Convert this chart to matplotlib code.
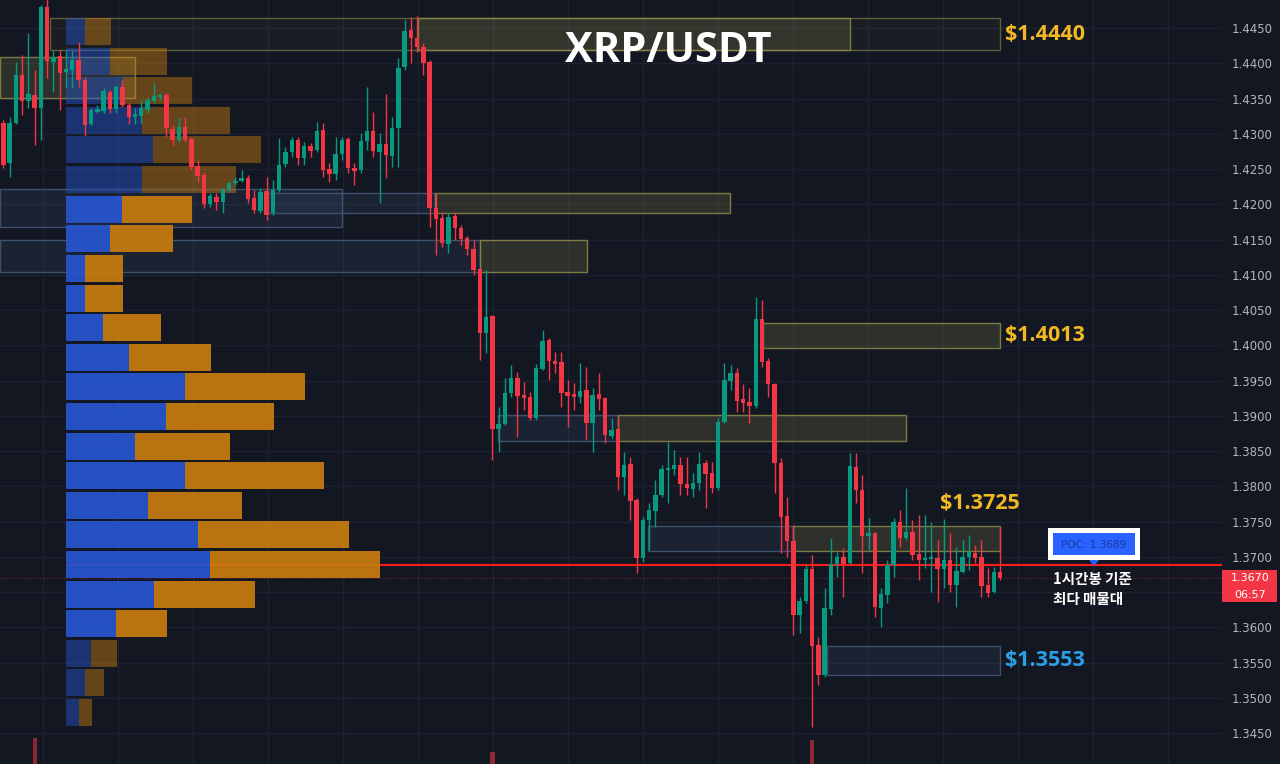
import numpy as np
import matplotlib
matplotlib.use("Agg")
import matplotlib.pyplot as plt
from matplotlib.patches import Rectangle, Polygon


# hourly XRP/USDT candles, oldest first
opens = [
    1.4315, 1.4259, 1.4315, 1.4383, 1.4347, 1.4355, 1.4337, 1.4480, 1.4402, 1.4410,
    1.4388, 1.4390, 1.4405, 1.4376, 1.4314, 1.4331, 1.4332, 1.4359, 1.4335, 1.4366,
    1.4341, 1.4324, 1.4325, 1.4334, 1.4347, 1.4352, 1.4355, 1.4307, 1.4291, 1.4310,
    1.4293, 1.4254, 1.4242, 1.4200, 1.4210, 1.4203, 1.4222, 1.4230, 1.4233, 1.4237,
    1.4209, 1.4190, 1.4219, 1.4188, 1.4220, 1.4257, 1.4274, 1.4291, 1.4266, 1.4283,
    1.4277, 1.4305, 1.4250, 1.4243, 1.4271, 1.4293, 1.4251, 1.4249, 1.4290, 1.4304,
    1.4274, 1.4285, 1.4268, 1.4308, 1.4395, 1.4447, 1.4436, 1.4423, 1.4402, 1.4195,
    1.4180, 1.4144, 1.4183, 1.4166, 1.4152, 1.4137, 1.4108, 1.4017, 1.4042, 1.3881,
    1.3888, 1.3932, 1.3954, 1.3930, 1.3927, 1.3897, 1.3966, 1.4007, 1.3978, 1.3976,
    1.3934, 1.3931, 1.3927, 1.3937, 1.3890, 1.3931, 1.3925, 1.3871, 1.3881, 1.3813,
    1.3832, 1.3781, 1.3698, 1.3752, 1.3765, 1.3788, 1.3823, 1.3825, 1.3830, 1.3803,
    1.3796, 1.3805, 1.3833, 1.3819, 1.3798, 1.3891, 1.3949, 1.3961, 1.3924, 1.3920,
    1.3914, 1.4037, 1.3978, 1.3945, 1.3833, 1.3758, 1.3722, 1.3617, 1.3637, 1.3683,
    1.3575, 1.3532, 1.3626, 1.3690, 1.3700, 1.3691, 1.3827, 1.3795, 1.3729, 1.3734,
    1.3627, 1.3646, 1.3688, 1.3749, 1.3727, 1.3735, 1.3704, 1.3695, 1.3697, 1.3698,
    1.3683, 1.3695, 1.3660, 1.3679, 1.3700, 1.3706, 1.3700, 1.3660, 1.3650, 1.3678,
]
highs = [
    1.4320, 1.4324, 1.4402, 1.4412, 1.4443, 1.4390, 1.4483, 1.4492, 1.4419, 1.4419,
    1.4419, 1.4419, 1.4430, 1.4380, 1.4337, 1.4341, 1.4365, 1.4362, 1.4369, 1.4376,
    1.4344, 1.4337, 1.4348, 1.4352, 1.4372, 1.4358, 1.4358, 1.4312, 1.4324, 1.4324,
    1.4295, 1.4263, 1.4246, 1.4216, 1.4216, 1.4224, 1.4232, 1.4239, 1.4249, 1.4242,
    1.4220, 1.4223, 1.4239, 1.4234, 1.4294, 1.4281, 1.4295, 1.4295, 1.4288, 1.4287,
    1.4317, 1.4315, 1.4259, 1.4295, 1.4295, 1.4295, 1.4259, 1.4301, 1.4366, 1.4331,
    1.4301, 1.4356, 1.4324, 1.4407, 1.4461, 1.4466, 1.4467, 1.4429, 1.4405, 1.4216,
    1.4188, 1.4188, 1.4189, 1.4171, 1.4155, 1.4149, 1.4110, 1.4107, 1.4043, 1.3912,
    1.3954, 1.3972, 1.3962, 1.3948, 1.3934, 1.3973, 1.4022, 1.4010, 1.3990, 1.3990,
    1.3951, 1.3947, 1.3975, 1.3969, 1.3939, 1.3961, 1.3927, 1.3897, 1.3898, 1.3849,
    1.3842, 1.3783, 1.3756, 1.3776, 1.3809, 1.3830, 1.3863, 1.3852, 1.3842, 1.3842,
    1.3819, 1.3849, 1.3837, 1.3835, 1.3897, 1.3975, 1.3972, 1.3968, 1.3945, 1.3939,
    1.4068, 1.4064, 1.3982, 1.3947, 1.3840, 1.3785, 1.3745, 1.3643, 1.3688, 1.3703,
    1.3586, 1.3656, 1.3727, 1.3707, 1.3713, 1.3847, 1.3847, 1.3816, 1.3755, 1.3735,
    1.3656, 1.3695, 1.3755, 1.3766, 1.3798, 1.3752, 1.3759, 1.3759, 1.3749, 1.3724,
    1.3754, 1.3734, 1.3714, 1.3724, 1.3731, 1.3717, 1.3724, 1.3684, 1.3685, 1.3742,
]
lows = [
    1.4251, 1.4239, 1.4314, 1.4327, 1.4337, 1.4284, 1.4291, 1.4379, 1.4359, 1.4334,
    1.4365, 1.4365, 1.4366, 1.4297, 1.4312, 1.4329, 1.4329, 1.4329, 1.4329, 1.4338,
    1.4314, 1.4314, 1.4315, 1.4329, 1.4344, 1.4348, 1.4295, 1.4284, 1.4288, 1.4288,
    1.4249, 1.4232, 1.4195, 1.4196, 1.4192, 1.4188, 1.4217, 1.4227, 1.4232, 1.4202,
    1.4188, 1.4188, 1.4177, 1.4185, 1.4217, 1.4253, 1.4267, 1.4256, 1.4256, 1.4267,
    1.4274, 1.4239, 1.4232, 1.4234, 1.4263, 1.4244, 1.4227, 1.4244, 1.4277, 1.4267,
    1.4202, 1.4237, 1.4253, 1.4253, 1.4390, 1.4400, 1.4416, 1.4383, 1.4168, 1.4128,
    1.4139, 1.4131, 1.4149, 1.4142, 1.4128, 1.4100, 1.3979, 1.3989, 1.3837, 1.3849,
    1.3887, 1.3927, 1.3870, 1.3908, 1.3894, 1.3894, 1.3965, 1.3951, 1.3961, 1.3912,
    1.3884, 1.3908, 1.3918, 1.3866, 1.3849, 1.3908, 1.3861, 1.3868, 1.3795, 1.3788,
    1.3752, 1.3677, 1.3693, 1.3710, 1.3742, 1.3785, 1.3776, 1.3816, 1.3788, 1.3788,
    1.3785, 1.3795, 1.3769, 1.3790, 1.3795, 1.3890, 1.3937, 1.3905, 1.3905, 1.3890,
    1.3911, 1.3969, 1.3927, 1.3790, 1.3705, 1.3700, 1.3589, 1.3592, 1.3634, 1.3459,
    1.3518, 1.3530, 1.3617, 1.3671, 1.3643, 1.3690, 1.3776, 1.3677, 1.3710, 1.3615,
    1.3600, 1.3634, 1.3671, 1.3714, 1.3724, 1.3695, 1.3667, 1.3684, 1.3650, 1.3636,
    1.3656, 1.3650, 1.3629, 1.3677, 1.3681, 1.3691, 1.3643, 1.3643, 1.3649, 1.3667,
]
closes = [
    1.4256, 1.4315, 1.4383, 1.4347, 1.4356, 1.4337, 1.4480, 1.4403, 1.4409, 1.4386,
    1.4392, 1.4405, 1.4376, 1.4312, 1.4334, 1.4335, 1.4361, 1.4335, 1.4366, 1.4341,
    1.4324, 1.4328, 1.4337, 1.4348, 1.4354, 1.4355, 1.4308, 1.4291, 1.4310, 1.4291,
    1.4253, 1.4240, 1.4200, 1.4212, 1.4203, 1.4220, 1.4230, 1.4233, 1.4237, 1.4207,
    1.4192, 1.4217, 1.4185, 1.4220, 1.4256, 1.4274, 1.4291, 1.4266, 1.4283, 1.4276,
    1.4304, 1.4249, 1.4243, 1.4271, 1.4291, 1.4251, 1.4247, 1.4290, 1.4304, 1.4276,
    1.4285, 1.4270, 1.4308, 1.4393, 1.4446, 1.4436, 1.4423, 1.4400, 1.4195, 1.4179,
    1.4145, 1.4182, 1.4166, 1.4151, 1.4137, 1.4107, 1.4017, 1.4040, 1.3881, 1.3888,
    1.3932, 1.3954, 1.3928, 1.3925, 1.3897, 1.3968, 1.4006, 1.3978, 1.3973, 1.3932,
    1.3928, 1.3927, 1.3935, 1.3890, 1.3930, 1.3924, 1.3873, 1.3880, 1.3813, 1.3830,
    1.3779, 1.3698, 1.3752, 1.3766, 1.3788, 1.3825, 1.3826, 1.3830, 1.3803, 1.3798,
    1.3805, 1.3832, 1.3817, 1.3798, 1.3891, 1.3951, 1.3961, 1.3921, 1.3918, 1.3914,
    1.4037, 1.3976, 1.3945, 1.3833, 1.3756, 1.3722, 1.3617, 1.3637, 1.3683, 1.3573,
    1.3532, 1.3627, 1.3690, 1.3700, 1.3690, 1.3829, 1.3795, 1.3729, 1.3734, 1.3629,
    1.3647, 1.3688, 1.3749, 1.3727, 1.3735, 1.3703, 1.3695, 1.3698, 1.3700, 1.3683,
    1.3695, 1.3660, 1.3680, 1.3700, 1.3707, 1.3698, 1.3659, 1.3649, 1.3678, 1.3670,
]

# big volume bars that show at the bottom edge (candle index, volume in M)
vol_index = [5, 78, 129]
vol_value = [5.2, 3.8, 5.0]

# volume profile, bins from bottom to top
vp_price = [1.3479, 1.3521, 1.3563, 1.3605, 1.3647, 1.3689, 1.3731, 1.3773,
            1.3815, 1.3857, 1.3899, 1.3941, 1.3983, 1.4025, 1.4067, 1.4109,
            1.4151, 1.4193, 1.4235, 1.4277, 1.4319, 1.4361, 1.4403, 1.4445]
vp_buy = [13, 19, 25, 50, 88, 144, 132, 82, 119, 69, 100, 119,
          63, 37, 19, 19, 44, 56, 76, 87, 76, 57, 44, 19]
vp_sell = [13, 19, 26, 51, 101, 170, 151, 94, 139, 95, 108, 120,
           82, 58, 38, 38, 63, 70, 94, 108, 88, 69, 57, 26]
va_low, va_high = 1.3605, 1.4193
poc = 1.3689
last_price = 1.3670
last_time = "06:57"

# supply / demand zones: (kind, first candle, last candle, low, high)
zones = [
    ("yellow_line", 7.5, 159, 1.4419, 1.4464),
    ("yellow", 66.1, 135.0, 1.4419, 1.4464),
    ("yellow", -0.6, 21.0, 1.4351, 1.4409),
    ("blue", -0.6, 54.0, 1.4168, 1.4222),
    ("blue", 42.2, 68.8, 1.4188, 1.4216),
    ("yellow", 68.8, 115.9, 1.4188, 1.4216),
    ("blue", -0.6, 76.0, 1.4104, 1.4149),
    ("yellow", 76.0, 93.1, 1.4104, 1.4149),
    ("yellow", 121.2, 159, 1.3996, 1.4032),
    ("blue", 78.9, 98.0, 1.3864, 1.3901),
    ("yellow", 98.0, 144.0, 1.3864, 1.3901),
    ("blue", 102.8, 126.0, 1.3708, 1.3744),
    ("yellow", 126.0, 159, 1.3708, 1.3744),
    ("blue", 131.4, 159, 1.3532, 1.3573),
]

# level labels: (text, candle x, price, colour)
levels = [
    ("$1.4440", 159.8, 1.4441, "#f2b824"),
    ("$1.4013", 159.8, 1.4014, "#f2b824"),
    ("$1.3725", 149.4, 1.3776, "#f2b824"),
    ("$1.3553", 159.8, 1.3553, "#2a9fe6"),
]

price_ticks = [1.3450, 1.3500, 1.3550, 1.3600, 1.3650, 1.3700, 1.3750, 1.3800,
               1.3850, 1.3900, 1.3950, 1.4000, 1.4050, 1.4100, 1.4150, 1.4200,
               1.4250, 1.4300, 1.4350, 1.4400, 1.4450]

BG = "#131722"
UP = "#089981"
DOWN = "#f23645"
W, H = 1280, 764


def fx(px):
    return px / W


def fy(py):
    return 1 - py / H


fig = plt.figure(figsize=(12.8, 7.64), dpi=100, facecolor=BG)
ax = fig.add_axes([0, 0, 1222 / W, 1])
ax.set_facecolor(BG)
ax.set_xlim(-0.53, 194.37)
ax.set_ylim(1.340603, 1.448972)
for s in ax.spines.values():
    s.set_visible(False)

# the last price tag sits on top of the tick that is closest below it
ax.yaxis.tick_right()
ax.set_yticks(price_ticks)
ax.set_yticklabels(["" if 0 < last_price - t < 0.003 else f"{t:.4f}" for t in price_ticks])
ax.tick_params(axis="y", length=0, pad=7, labelcolor="#b2b5be", labelsize=8.5)
ax.set_xticks(np.arange(6.33, 194, 11.96))
ax.tick_params(axis="x", length=0, labelbottom=False)
ax.grid(color="#1e2230", lw=1, zorder=0)
ax.set_axisbelow(True)

# zones
for kind, x0, x1, lo, hi in zones:
    if kind == "blue":
        ax.add_patch(Rectangle((x0, lo), x1 - x0, hi - lo, facecolor=(0.30, 0.42, 0.60, 0.14),
                               edgecolor=(0.25, 0.34, 0.46, 0.9), lw=1, zorder=1))
    elif kind == "yellow":
        ax.add_patch(Rectangle((x0, lo), x1 - x0, hi - lo, facecolor=(0.55, 0.54, 0.30, 0.22),
                               edgecolor=(0.55, 0.54, 0.28, 0.85), lw=1, zorder=1))
    else:
        ax.add_patch(Rectangle((x0, lo), x1 - x0, hi - lo, facecolor=(0.45, 0.44, 0.25, 0.08),
                               edgecolor=(0.50, 0.49, 0.27, 0.7), lw=1, zorder=1))

# POC line and last price line
ax.hlines(poc, 10.0, 194.4, color="#ff1a1a", lw=1.5, zorder=2)
ax.axhline(last_price, color=DOWN, lw=0.8, ls=(0, (1, 2)), alpha=0.45, zorder=2)

# volume profile
vp_start = 10.0
vp_width = 50.1
vp_max = max(b + s for b, s in zip(vp_buy, vp_sell))
bin_h = 0.00383
for p, b, s in zip(vp_price, vp_buy, vp_sell):
    inside = va_low - 1e-6 <= p <= va_high + 1e-6
    a = 0.92 if inside else 0.45
    wb = b / vp_max * vp_width
    ws = s / vp_max * vp_width
    ax.barh(p, wb, left=vp_start, height=bin_h, color="#2656d0", alpha=a, lw=0, zorder=3)
    ax.barh(p, ws, left=vp_start + wb, height=bin_h, color="#c97d0e", alpha=a, lw=0, zorder=3)

# candles
idx = np.arange(len(opens))
o = np.array(opens)
c = np.array(closes)
colors = np.where(c >= o, UP, DOWN)
ax.vlines(idx, lows, highs, colors=colors, lw=1, zorder=4)
body = np.maximum(np.abs(c - o), 0.00015)
ax.bar(idx, body, bottom=np.minimum(o, c), width=0.7, color=colors, lw=0, zorder=5)

# volume bars peeking at the bottom
axv = fig.add_axes([0, 0, 1222 / W, 1], facecolor="none")
axv.set_xlim(ax.get_xlim())
axv.set_ylim(2.6, 79.0)
axv.axis("off")
axv.bar(vol_index, vol_value, width=0.68, color=DOWN, alpha=0.55, lw=0)

# level labels
for text, x, p, col in levels:
    ax.text(x, p, text, color=col, fontsize=15.5, fontweight="bold", family="Open Sans",
            ha="left", va="center", zorder=6)

fig.text(fx(668), fy(52), "XRP/USDT", color="white", fontsize=30, fontweight="bold",
         family="Open Sans", ha="center", va="center")

# POC callout
fig.patches.append(Rectangle((fx(1048), fy(560)), fx(92), 32 / H, transform=fig.transFigure,
                             facecolor="white", edgecolor="none"))
fig.patches.append(Rectangle((fx(1053), fy(555)), fx(82), 22 / H, transform=fig.transFigure,
                             facecolor="#2962ff", edgecolor="none"))
fig.patches.append(Polygon([(fx(1089), fy(560)), (fx(1099), fy(560)), (fx(1094), fy(566))],
                           closed=True, transform=fig.transFigure, facecolor="#2962ff",
                           edgecolor="none"))
fig.text(fx(1094), fy(545), f"POC: {poc:.4f}", color="#1a3aa0", fontsize=7.5,
         ha="center", va="center")
kfont = ["Noto Sans CJK KR", "DejaVu Sans"]
fig.text(fx(1053), fy(579), "1시간봉 기준", color="white", fontsize=10.5, fontweight="bold",
         family=kfont, ha="left", va="center")
fig.text(fx(1053), fy(599), "최다 매물대", color="white", fontsize=10.5, fontweight="bold",
         family=kfont, ha="left", va="center")

# last price tag on the axis
fig.patches.append(Rectangle((fx(1222), fy(602)), fx(55), 32 / H, transform=fig.transFigure,
                             facecolor=DOWN, edgecolor="none"))
fig.text(fx(1250), fy(578), f"{last_price:.4f}", color="white", fontsize=8,
         ha="center", va="center")
fig.text(fx(1250), fy(595), last_time, color="white", fontsize=8, ha="center", va="center")

fig.savefig("out.png", dpi=100, facecolor=BG)
